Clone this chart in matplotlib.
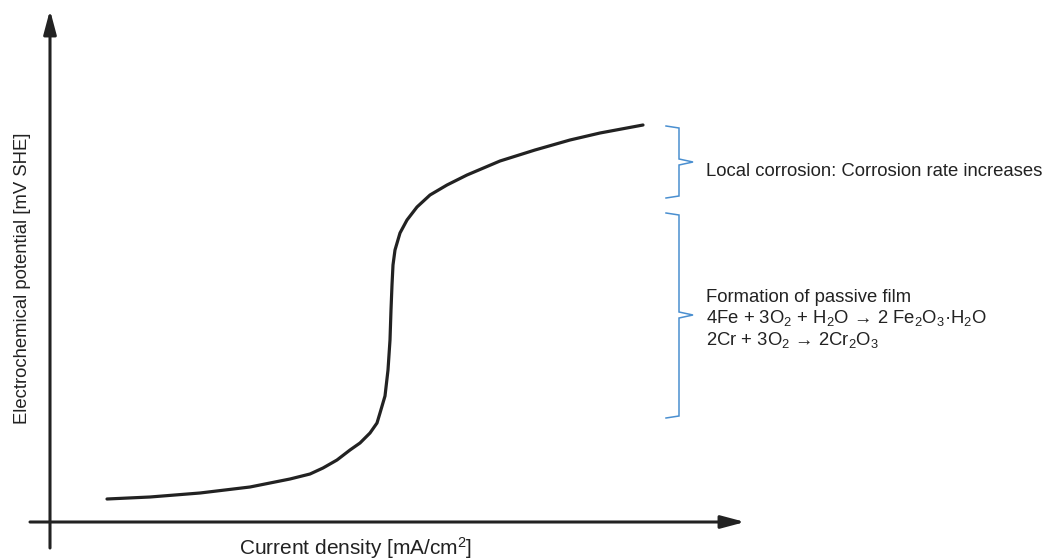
import matplotlib
matplotlib.use("Agg")
import matplotlib.pyplot as plt

# -------------------- data (arbitrary units, no ticks on the chart) --------------------
current = [57, 100, 150, 200, 240, 260, 273, 287, 300, 310, 320, 327, 330,
           335, 338, 340, 341, 342, 343, 345, 350, 357, 367, 380, 397, 417, 450,
           485, 520, 550, 593]
potential = [23, 25, 29, 35, 43, 48, 54, 62, 72, 79, 89, 99, 109,
             126, 152, 182, 212, 237, 257, 272, 289, 302, 315, 327, 337, 347, 361,
             372, 382, 389, 397]

# brackets: (top, tip, bottom) in potential units
local_range = (396, 360, 324)
passive_range = (309, 207, 104)

local_label = "Local corrosion: Corrosion rate increases"
passive_lines = [
    "Formation of passive film",
    "4Fe + 3O$_2$ + H$_2$O \u2192 2 Fe$_2$O$_3$\u00b7H$_2$O",
    "2Cr + 3O$_2$ \u2192 2Cr$_2$O$_3$",
]
xlabel = "Current density [mA/cm$^2$]"
ylabel = "Electrochemical potential [mV SHE]"

# -------------------- style --------------------
plt.rcParams['font.family'] = ['Liberation Sans', 'DejaVu Sans']
plt.rcParams['mathtext.fontset'] = 'custom'
plt.rcParams['mathtext.rm'] = 'Liberation Sans'
plt.rcParams['mathtext.it'] = 'Liberation Sans:italic'
plt.rcParams['mathtext.bf'] = 'Liberation Sans:bold'

ink = "#222222"
blue = "#4a8fd0"
fs = 13.3

fig = plt.figure(figsize=(10.52, 5.59), dpi=100)
ax = fig.add_axes([0, 0, 1, 1])
ax.set_xlim(-50, 1002)
ax.set_ylim(-37, 522)
ax.axis("off")

# axes drawn as arrows
arrow = dict(arrowstyle="-|>,head_length=1.2,head_width=0.32", color=ink,
             lw=2.2, shrinkA=0, shrinkB=0, mutation_scale=12)
ax.annotate("", xy=(695, 0), xytext=(-20, 0), arrowprops=arrow)
ax.annotate("", xy=(0, 512), xytext=(0, -26), arrowprops=arrow)

ax.plot(current, potential, color=ink, lw=2.3, solid_capstyle="round",
        solid_joinstyle="round")


def bracket(top, tip, bottom, x0=616, x1=629, x2=643):
    ax.plot([x0, x1, x1, x2, x1, x1, x0],
            [top, top - 2, tip + 3, tip, tip - 3, bottom + 2, bottom],
            color=blue, lw=1.1, solid_joinstyle="miter")


bracket(*local_range)
bracket(*passive_range)

ax.text(656, local_range[1] - 9, local_label, fontsize=fs, color=ink, va="center")
for i, line in enumerate(passive_lines):
    ax.text(656, passive_range[1] + 18 - i * 21.5, line, fontsize=fs, color=ink,
            va="center")

ax.text(306, -26, xlabel, fontsize=15, color=ink, ha="center", va="center")
ax.text(-27, 244, ylabel, fontsize=fs, color=ink, ha="center", va="center",
        rotation=90)

fig.savefig("out.png", dpi=100)
